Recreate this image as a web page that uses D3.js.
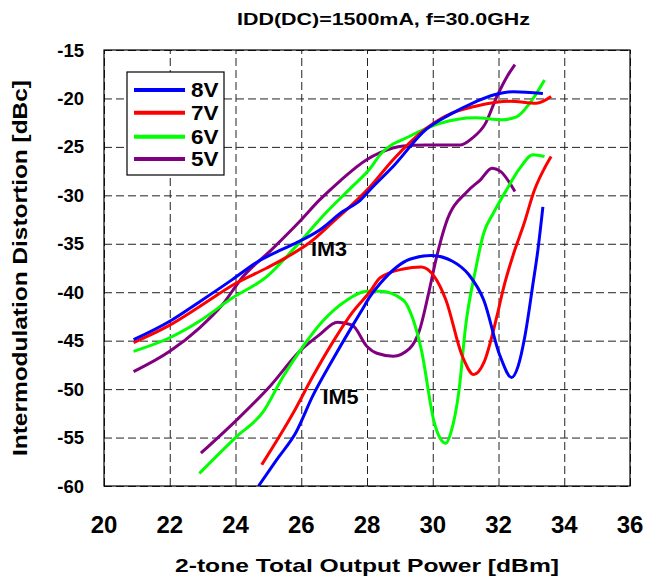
<!DOCTYPE html>
<html>
<head>
<meta charset="utf-8">
<script src="https://d3js.org/d3.v7.min.js"></script>
<style>
  body { margin: 0; background: #fff; }
  text { font-family: "Liberation Sans", Arial, sans-serif; font-weight: bold; fill: #000; }
</style>
</head>
<body>
<div id="chart"></div>
<script>
// tick labels
const xTicks = [20, 22, 24, 26, 28, 30, 32, 34, 36]
const yTicks = [-15, -20, -25, -30, -35, -40, -45, -50, -55, -60]

const legendNames = ["8V", "7V", "6V", "5V"]
const colors = ["#0000ff", "#ff0000", "#00ff00", "#800080"]

// IM3 curves, [output power dBm, distortion dBc]
const im3_8V = [[20.9,-44.9],[22.0,-43.0],[22.9,-41.0],[23.9,-38.7],[24.6,-37.0],[25.4,-35.6],[25.85,-34.9],
  [26.55,-33.6],[27.25,-31.7],[27.8,-30.5],[28.1,-29.4],[28.8,-27.0],[29.8,-23.2],[30.5,-21.7],[31.2,-20.5],
  [31.9,-19.6],[32.45,-19.3],[33.35,-19.5]]
const im3_7V = [[20.9,-45.2],[22.0,-43.4],[22.9,-41.5],[24.0,-39.1],[24.95,-37.5],[25.55,-36.4],[26.25,-34.9],
  [26.95,-32.8],[28.1,-29.1],[28.8,-26.3],[29.8,-23.1],[30.6,-21.5],[31.3,-20.8],[32.35,-20.3],[33.15,-20.5],
  [33.6,-19.8]]
const im3_6V = [[20.9,-46.1],[22.0,-44.7],[22.9,-43.0],[23.9,-40.6],[24.95,-38.4],[25.75,-35.6],[26.75,-31.8],
  [27.55,-29.1],[28.1,-27.2],[28.4,-25.8],[29.3,-23.9],[30.2,-22.6],[31.3,-22.0],[32.1,-22.2],[32.55,-21.9],
  [32.95,-20.5],[33.4,-18.1]]
const im3_5V = [[20.9,-48.2],[22.0,-46.1],[22.9,-43.7],[23.6,-41.3],[24.2,-38.5],[25.1,-35.6],[25.95,-32.7],
  [26.55,-30.5],[27.15,-28.6],[28.0,-26.3],[28.4,-25.6],[29.1,-24.9],[29.8,-24.8],[30.85,-24.8],[31.2,-24.1],
  [31.6,-22.6],[31.95,-19.8],[32.25,-17.8],[32.5,-16.5]]

// IM5 curves
const im5_8V = [[24.7,-60.0],[25.25,-57.3],[25.85,-54.4],[26.35,-50.7],[26.95,-47.0],[27.55,-43.5],[27.8,-42.1],
  [28.1,-40.4],[28.4,-39.1],[29.3,-36.6],[29.95,-36.2],[30.6,-36.8],[31.1,-38.2],[31.55,-40.8],[32.05,-46.6],
  [32.4,-48.8],[32.6,-47.6],[32.8,-44.6],[33.05,-39.1],[33.2,-35.6],[33.35,-31.2]]
const im5_7V = [[24.8,-57.8],[25.75,-52.5],[26.35,-48.7],[26.95,-45.2],[27.55,-42.1],[28.1,-39.9],[28.4,-38.5],
  [29.1,-37.6],[29.65,-37.4],[30.05,-38.4],[30.4,-40.8],[30.9,-46.6],[31.25,-48.5],[31.55,-47.3],[31.95,-42.5],
  [32.15,-39.6],[32.5,-35.6],[32.75,-33.2],[33.1,-29.4],[33.4,-27.2],[33.6,-26.0]]
const im5_6V = [[22.9,-58.7],[24.0,-55.0],[24.85,-52.3],[25.45,-48.7],[25.95,-46.1],[26.65,-43.0],[27.35,-40.9],
  [28.0,-39.9],[28.4,-39.9],[29.1,-40.8],[29.4,-42.8],[29.65,-45.9],[30.05,-53.5],[30.4,-55.6],[30.55,-54.5],
  [30.8,-50.1],[31.0,-43.5],[31.3,-37.7],[31.55,-33.9],[31.85,-31.8],[32.25,-29.4],[32.65,-27.2],[33.05,-25.8],
  [33.4,-26.0]]
const im5_5V = [[22.95,-56.6],[24.0,-53.3],[25.05,-49.7],[25.95,-46.1],[26.55,-44.4],[27.1,-43.1],[27.55,-43.4],
  [28.0,-45.6],[28.3,-46.3],[28.8,-46.6],[29.3,-45.8],[29.6,-43.9],[29.9,-39.7],[30.1,-36.6],[30.4,-32.9],
  [31.05,-29.6],[31.45,-28.4],[31.8,-27.2],[32.05,-27.5],[32.5,-29.6]]

const im3Series = [im3_8V, im3_7V, im3_6V, im3_5V]
const im5Series = [im5_8V, im5_7V, im5_6V, im5_5V]

const W = 647, H = 582
const margin = {top: 50, right: 17, bottom: 96, left: 104},
      width = W - margin.left - margin.right,
      height = H - margin.top - margin.bottom

const svgRoot = d3.select("#chart").append("svg")
    .attr("width", W)
    .attr("height", H)

const svg = svgRoot.append("g")
    .attr("transform", `translate(${margin.left},${margin.top})`)

const x = d3.scaleLinear().domain([20, 36]).range([0, width])
const y = d3.scaleLinear().domain([-60, -15]).range([height, 0])

// grid
svg.append("g")
  .attr("transform", `translate(0,${height})`)
  .call(d3.axisBottom(x).tickValues(xTicks).tickSize(-height).tickFormat(""))
  .call(g => g.select(".domain").remove())
  .selectAll("line")
    .attr("stroke", "#222")
    .attr("stroke-dasharray", "8,4")

svg.append("g")
  .call(d3.axisLeft(y).tickValues(yTicks).tickSize(-width).tickFormat(""))
  .call(g => g.select(".domain").remove())
  .selectAll("line")
    .attr("stroke", "#222")
    .attr("stroke-dasharray", "8,4")

// tick labels
svg.selectAll(".xlab")
  .data(xTicks)
  .join("text")
    .attr("x", d => x(d))
    .attr("y", height + 47)
    .attr("text-anchor", "middle")
    .style("font-size", "24px")
    .text(d => d)

svg.selectAll(".ylab")
  .data(yTicks)
  .join("text")
    .attr("x", -20)
    .attr("y", d => y(d) + 6.5)
    .attr("text-anchor", "end")
    .style("font-size", "18.5px")
    .text(d => d)

// curves
svg.append("clipPath").attr("id", "clip")
  .append("rect").attr("width", width).attr("height", height)

const line = d3.line()
  .curve(d3.curveMonotoneX)
  .x(d => x(d[0]))
  .y(d => y(d[1]))

// 5V drawn first, 8V last
const allCurves = []
for(let set of [im5Series, im3Series]){
  for(let i = set.length - 1; i >= 0; i--){
    allCurves.push({pts: set[i], color: colors[i]})
  }
}

svg.append("g").attr("clip-path", "url(#clip)")
  .selectAll("path")
  .data(allCurves)
  .join("path")
    .attr("d", d => line(d.pts))
    .attr("fill", "none")
    .attr("stroke", d => d.color)
    .attr("stroke-width", 3)
    .attr("stroke-linejoin", "round")

// frame
svg.append("rect")
  .attr("width", width)
  .attr("height", height)
  .attr("fill", "none")
  .attr("stroke", "#000")
  .attr("stroke-width", 1.2)

// curve labels
svg.append("text")
  .attr("x", x(26.3)).attr("y", y(-36.3))
  .attr("textLength", 36).attr("lengthAdjust", "spacingAndGlyphs")
  .style("font-size", "20px")
  .text("IM3")
svg.append("text")
  .attr("x", x(26.65)).attr("y", y(-51.5))
  .attr("textLength", 36).attr("lengthAdjust", "spacingAndGlyphs")
  .style("font-size", "20px")
  .text("IM5")

// legend
const legend = svg.append("g").attr("transform", "translate(23,22)")
legend.append("rect")
  .attr("width", 97)
  .attr("height", 103)
  .attr("fill", "#fff")
  .attr("stroke", "#000")
  .attr("stroke-width", 1.2)

const rowY = [18, 40.7, 64.7, 87]
legend.selectAll(".lline")
  .data(legendNames)
  .join("line")
    .attr("x1", 7).attr("x2", 58)
    .attr("y1", (d, i) => rowY[i]).attr("y2", (d, i) => rowY[i])
    .attr("stroke", (d, i) => colors[i])
    .attr("stroke-width", 4)

legend.selectAll(".ltext")
  .data(legendNames)
  .join("text")
    .attr("x", 64)
    .attr("y", (d, i) => rowY[i] + 7)
    .attr("textLength", 27.5).attr("lengthAdjust", "spacingAndGlyphs")
    .style("font-size", "20px")
    .text(d => d)

// titles
svgRoot.append("text")
  .attr("x", 383.5).attr("y", 25)
  .attr("text-anchor", "middle")
  .attr("textLength", 293).attr("lengthAdjust", "spacingAndGlyphs")
  .style("font-size", "16.5px")
  .text("IDD(DC)=1500mA, f=30.0GHz")

svgRoot.append("text")
  .attr("x", margin.left + x(28)).attr("y", 572)
  .attr("text-anchor", "middle")
  .attr("textLength", 384).attr("lengthAdjust", "spacingAndGlyphs")
  .style("font-size", "19px")
  .text("2-tone Total Output Power [dBm]")

svgRoot.append("text")
  .attr("transform", `translate(27,${margin.top + height / 2}) rotate(-90)`)
  .attr("text-anchor", "middle")
  .attr("textLength", 376).attr("lengthAdjust", "spacingAndGlyphs")
  .style("font-size", "19.5px")
  .text("Intermodulation Distortion [dBc]")
</script>
</body>
</html>
